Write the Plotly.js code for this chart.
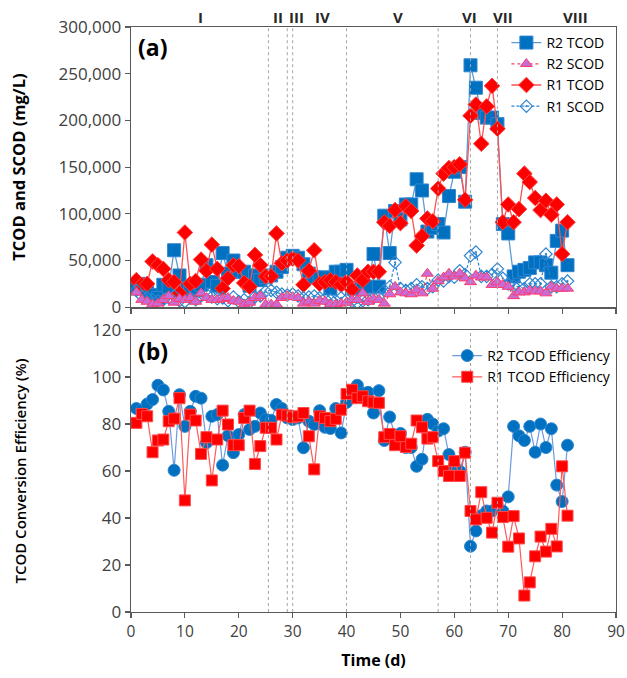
<!DOCTYPE html>
<html>
<head>
<meta charset="utf-8">
<script src="https://cdn.plot.ly/plotly-3.0.1.min.js"></script>
<style>html,body{margin:0;padding:0;background:#fff;}#chart{width:627px;height:678px;}</style>
</head>
<body>
<div id="chart"></div>
<script>
const days = [1,2,3,4,5,6,7,8,9,10,11,12,13,14,15,16,17,18,19,20,21,22,23,24,25,26,27,28,29,30,31,32,33,34,35,36,37,38,39,40,41,42,43,44,45,46,47,48,49,50,51,52,53,54,55,56,57,58,59,60,61,62,63,64,65,66,67,68,69,70,71,72,73,74,75,76,77,78,79,80,81];

const r2TCOD = [20000,25000,16000,13000,10000,24000,22000,61000,34000,20000,16000,18000,24000,45000,27000,23000,58000,36000,50000,38000,38000,23000,34000,29000,32000,34000,38000,43000,53000,55000,53000,46000,36000,32000,31000,32000,20000,38000,38000,40000,20000,20000,27000,22000,57000,22000,98000,58000,103000,94000,110000,110000,137000,125000,81000,85000,89000,80000,119000,145000,150000,113000,259000,235000,208000,203000,203000,196000,89000,79000,33000,38000,40000,42000,48000,48000,45000,37000,71000,82000,45000];
const r2SCOD = [16000,8000,6000,3000,4000,8000,12000,5000,9000,8000,10000,6000,15000,10000,8000,8000,9000,10000,7000,6000,3000,5000,10000,12000,3000,3000,3000,10000,12000,11000,10000,4000,6000,4000,7000,6000,3000,3000,4000,5000,8000,8000,15000,6000,9000,8000,4000,14000,22000,16000,15000,14000,18000,15000,36000,20000,28000,32000,36000,33000,36000,31000,27000,34000,32000,32000,24000,27000,24000,22000,12000,16000,16000,18000,17000,17000,15000,22000,20000,20000,20000];
const r1TCOD = [29000,24000,25000,49000,45000,41000,29000,27000,15000,80000,25000,28000,51000,39000,67000,41000,20000,31000,45000,44000,26000,22000,56000,45000,33000,33000,79000,47000,50000,52000,50000,24000,39000,61000,25000,27000,29000,27000,24000,27000,19000,34000,29000,38000,38000,38000,91000,87000,104000,90000,108000,103000,66000,76000,95000,92000,127000,143000,149000,150000,153000,115000,205000,217000,175000,215000,237000,191000,91000,110000,91000,105000,143000,134000,117000,104000,114000,99000,110000,57000,91000];
const r1SCOD = [18000,12000,10000,8000,7000,8000,10000,12000,7000,6000,10000,8000,12000,14000,11000,9000,10000,7000,11000,6000,8000,5000,11000,12000,17000,18000,16000,14000,13000,14000,12000,10000,11000,12000,10000,9000,8000,7000,10000,8000,6000,5000,7000,8000,10000,12000,18000,22000,48000,20000,18000,20000,24000,22000,20000,22000,29000,28000,33000,32000,39000,35000,55000,59000,33000,33000,35000,41000,31000,25000,23000,22000,20000,25000,25000,25000,57000,22000,22000,25000,28000];

const r2Eff = [86.6,86,88.5,90.4,96.5,94.5,85.4,60.3,92.5,79,85.4,91.8,91,72,83.3,84,62.5,75,67.8,75.5,84,77.7,79,84.7,81.9,81.6,88.3,86.6,82.6,81.9,82.6,69.9,81.2,79.8,85.7,78.6,78.1,86.6,76.2,89.2,93.9,96.5,93.2,93.5,84.7,94.2,73,83,75,76,70,70,62,65,82,80,77,78,67,62,60,68,28,34.5,41,43,43,44,43,49,79,75,73,79,68,80,70,78,54,47,71];
const r1Eff = [80.5,84.3,83.3,68,73,73.4,81.2,82.3,91,47.5,84,81.5,67.3,74.4,56,73.4,85.7,79.8,71,71,82.6,85.7,63,70.6,78.4,78.4,73.4,84,83.6,82.9,83.3,84.7,74.8,60.7,83.3,82.6,81.2,82.2,86.1,92.8,94.6,91,91.8,89.7,89.2,89,74.4,75.8,71,74.8,70.2,71.6,81.5,78.6,73.8,74.4,64.2,60,57.9,64.2,57.9,67.8,43,39.4,51,40.1,33.8,46.5,40.4,27.8,40.8,31.3,7,12.6,23.7,32.1,25.7,35.4,27.9,62,41];

const phaseBounds = [25.5,29,30,40,57,63,68];
const phaseNames = ['I','II','III','IV','V','VI','VII','VIII'];
const phaseLabelX = [12.9,27.3,30.8,35.6,49.6,62.8,69.1,82.4];

const FONT = 'Open Sans, Liberation Sans, sans-serif';
const AX = '#595959';

const traces = [
  {x: days, y: r2TCOD, name: 'R2 TCOD', type: 'scatter', mode: 'lines+markers', xaxis: 'x', yaxis: 'y', legend: 'legend', legendrank: 1,
   line: {color: '#5B9BD5', width: 1.3}, marker: {symbol: 'square', size: 13, color: '#0070C0', line: {color: '#2E86D1', width: 1}}},
  {x: days, y: r1TCOD, name: 'R1 TCOD', type: 'scatter', mode: 'lines+markers', xaxis: 'x', yaxis: 'y', legend: 'legend', legendrank: 3,
   line: {color: '#FF5050', width: 1.3}, marker: {symbol: 'diamond', size: 12, color: '#FF0000', line: {color: '#FF4040', width: 1}}},
  {x: days, y: r1SCOD, name: 'R1 SCOD', type: 'scatter', mode: 'lines+markers', xaxis: 'x', yaxis: 'y', legend: 'legend', legendrank: 4,
   line: {color: '#2E86D1', width: 1.2, dash: '3px,2px'}, marker: {symbol: 'diamond-open-dot', size: 9.5, color: '#2E86D1', line: {color: '#2E86D1', width: 1.2}}},
  {x: days, y: r2SCOD, name: 'R2 SCOD', type: 'scatter', mode: 'lines+markers', xaxis: 'x', yaxis: 'y', legend: 'legend', legendrank: 2,
   line: {color: '#FF3B5C', width: 1.2, dash: 'dot'}, marker: {symbol: 'triangle-up', size: 10.5, color: '#C86BD6', line: {color: '#FF3B6B', width: 1}}},
  {x: days, y: r2Eff, name: 'R2 TCOD Efficiency', type: 'scatter', mode: 'lines+markers', xaxis: 'x2', yaxis: 'y2', legend: 'legend2', legendrank: 1,
   line: {color: '#6C9BE0', width: 1.2}, marker: {symbol: 'circle', size: 12, color: '#0070C0', line: {color: '#2E86D1', width: 1}}},
  {x: days, y: r1Eff, name: 'R1 TCOD Efficiency', type: 'scatter', mode: 'lines+markers', xaxis: 'x2', yaxis: 'y2', legend: 'legend2', legendrank: 2,
   line: {color: '#FF5A5A', width: 1.2}, marker: {symbol: 'square', size: 11, color: '#FF0000', line: {color: '#FF4A4A', width: 1}}}
];

const shapes = [];
phaseBounds.forEach(b => {
  shapes.push({type: 'line', xref: 'x', yref: 'y domain', x0: b, x1: b, y0: 0, y1: 1, line: {color: '#A6A6A6', width: 1, dash: 'dot'}});
  shapes.push({type: 'line', xref: 'x2', yref: 'y2 domain', x0: b, x1: b, y0: 0, y1: 1, line: {color: '#A6A6A6', width: 1, dash: 'dot'}});
});

const annotations = phaseNames.map((n, i) => ({
  text: '<b>' + n + '</b>', x: phaseLabelX[i], xref: 'x', y: 1.017, yref: 'paper', yanchor: 'middle', xanchor: 'center',
  showarrow: false, font: {family: FONT, size: 15, color: '#262626'}
}));
annotations.push({text: '<b>(a)</b>', x: 0.01, xref: 'paper', y: 0.965, yref: 'paper', xanchor: 'left', yanchor: 'middle', showarrow: false, font: {family: FONT, size: 23, color: '#000'}});
annotations.push({text: '<b>(b)</b>', x: 0.01, xref: 'paper', y: 0.447, yref: 'paper', xanchor: 'left', yanchor: 'middle', showarrow: false, font: {family: FONT, size: 23, color: '#000'}});

const axisCommon = {showline: true, linecolor: AX, linewidth: 1.3, mirror: true, ticks: 'outside', ticklen: 5, tickcolor: AX, tickwidth: 1.2, showgrid: false, zeroline: false};

const layout = {
  width: 627, height: 678,
  margin: {l: 131, r: 11, t: 27, b: 66},
  paper_bgcolor: '#fff', plot_bgcolor: '#fff',
  font: {family: FONT, color: '#404040'},
  showlegend: true,
  xaxis: Object.assign({}, axisCommon, {anchor: 'y', domain: [0, 1], range: [0, 90], dtick: 10, showticklabels: false}),
  yaxis: Object.assign({}, axisCommon, {domain: [0.521, 1], range: [0, 300000], dtick: 50000, tickformat: ',',
    tickfont: {family: FONT, size: 17, color: '#404040'},
    title: {text: '<b>TCOD and SCOD (mg/L)</b>', font: {family: FONT, size: 16.5, color: '#000'}, standoff: 28}}),
  xaxis2: Object.assign({}, axisCommon, {anchor: 'y2', domain: [0, 1], range: [0, 90], dtick: 10, matches: 'x',
    tickfont: {family: FONT, size: 15.5, color: '#404040'},
    title: {text: '<b>Time (d)</b>', font: {family: FONT, size: 16, color: '#000'}, standoff: 14}}),
  yaxis2: Object.assign({}, axisCommon, {domain: [0, 0.482], range: [0, 120], dtick: 20,
    tickfont: {family: FONT, size: 17, color: '#404040'},
    title: {text: 'TCOD Conversion Efficiency (%)', font: {family: FONT, size: 15, weight: 600, color: '#000'}, standoff: 62}}),
  legend: {x: 0.774, y: 1.0, xanchor: 'left', yanchor: 'top', bgcolor: 'rgba(255,255,255,0)', font: {family: FONT, size: 14, color: '#000'}, tracegroupgap: 0, itemwidth: 30},
  legend2: {x: 0.652, y: 0.465, xanchor: 'left', yanchor: 'top', bgcolor: 'rgba(255,255,255,0)', font: {family: FONT, size: 14, color: '#000'}, tracegroupgap: 0, itemwidth: 30},
  shapes: shapes,
  annotations: annotations
};

Plotly.newPlot('chart', traces, layout, {displayModeBar: false, staticPlot: true});
</script>
</body>
</html>
